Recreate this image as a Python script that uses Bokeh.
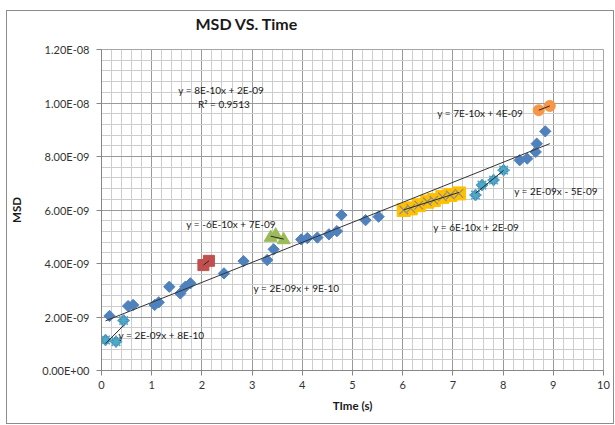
import numpy as np
from bokeh.plotting import figure
from bokeh.models import Range1d, FixedTicker, CustomJSTickFormatter, Label
from bokeh.embed import file_html
from bokeh.resources import INLINE

# ---------------- data (time in s, MSD) ----------------
blue_x = [0.16, 0.53, 0.63, 1.06, 1.14, 1.35, 1.57, 1.67, 1.77, 2.44, 2.83, 3.30,
          3.43, 3.98, 4.10, 4.30, 4.53, 4.69, 4.78, 5.26, 5.52,
          8.33, 8.48, 8.65, 8.67, 8.84]
blue_y = [2.04e-9, 2.41e-9, 2.45e-9, 2.45e-9, 2.55e-9, 3.13e-9, 2.88e-9, 3.13e-9, 3.26e-9,
          3.63e-9, 4.09e-9, 4.13e-9, 4.53e-9, 4.90e-9, 4.95e-9, 4.97e-9, 5.09e-9, 5.21e-9,
          5.81e-9, 5.62e-9, 5.75e-9, 7.86e-9, 7.92e-9, 8.17e-9, 8.48e-9, 8.94e-9]

star1_x = [0.08, 0.29, 0.44]
star1_y = [1.14e-9, 1.08e-9, 1.87e-9]

red_x = [2.03, 2.14]
red_y = [3.94e-9, 4.10e-9]

green_x = [3.37, 3.47, 3.63]
green_y = [4.97e-9, 5.06e-9, 4.88e-9]

yellow_x = [6.02, 6.16, 6.32, 6.49, 6.62, 6.79, 6.95, 7.12]
yellow_y = [6.00e-9, 6.06e-9, 6.18e-9, 6.31e-9, 6.37e-9, 6.49e-9, 6.56e-9, 6.62e-9]

star2_x = [7.45, 7.58, 7.81, 8.01]
star2_y = [6.56e-9, 6.93e-9, 7.12e-9, 7.49e-9]

orange_x = [8.71, 8.93]
orange_y = [9.73e-9, 9.89e-9]

y_ticks = [0.0, 2e-9, 4e-9, 6e-9, 8e-9, 1.0e-8, 1.2e-8]
x_ticks = [0, 1, 2, 3, 4, 5, 6, 7, 8, 9, 10]

title_text = "MSD VS. Time"
eq_main = "y = 8E-10x + 2E-09"
r2_main = "R\u00b2 = 0.9513"
eq_orange = "y = 7E-10x + 4E-09"
eq_star2 = "y = 2E-09x - 5E-09"
eq_yellow = "y = 6E-10x + 2E-09"
eq_green = "y = -6E-10x + 7E-09"
eq_red = "y = 2E-09x + 9E-10"
eq_star1 = "y = 2E-09x + 8E-10"

FONT = "Lato"

# ---------------- figure ----------------
p = figure(width=606, height=412, output_backend="svg", toolbar_location=None,
           x_range=Range1d(0, 10), y_range=Range1d(0, 1.2e-8),
           frame_width=502, frame_height=321,
           min_border_left=94, min_border_top=38, min_border_right=10, min_border_bottom=53)
p.margin = (10, 0, 0, 6)
p.styles = {"border": "1px solid #8c8c8c"}
p.background_fill_color = "white"
p.border_fill_color = "white"
p.outline_line_color = "#a6a6a6"

minor_y = [v * 4e-10 for v in range(0, 31)]
minor_x = [v * 0.2 for v in range(0, 51)]
p.yaxis.ticker = FixedTicker(ticks=y_ticks, minor_ticks=minor_y)
p.xaxis.ticker = FixedTicker(ticks=x_ticks, minor_ticks=minor_x)

p.yaxis.formatter = CustomJSTickFormatter(code="""
  const s = tick.toExponential(2).toUpperCase();
  const parts = s.split("E");
  let e = parseInt(parts[1]);
  const sign = e < 0 ? "-" : "+";
  e = Math.abs(e);
  return parts[0] + "E" + sign + (e < 10 ? "0" : "") + e;
""")

for g in (p.xgrid, p.ygrid):
    g.grid_line_color = "#9a9a9a"
    g.grid_line_width = 1
    g.minor_grid_line_color = "#cdcdcd"
    g.minor_grid_line_width = 1

for ax in (p.xaxis, p.yaxis):
    ax.axis_line_color = "#868686"
    ax.major_tick_line_color = "#868686"
    ax.major_tick_out = 5
    ax.major_tick_in = 0
    ax.minor_tick_out = 0
    ax.minor_tick_in = 0
    ax.major_label_text_font = FONT
    ax.major_label_text_font_size = "11px"
    ax.major_label_text_color = "#333333"
    ax.axis_label_text_font = FONT
    ax.axis_label_text_font_size = "11.5px"
    ax.axis_label_text_font_style = "bold"
    ax.axis_label_text_color = "#1a1a1a"

p.xaxis.axis_label = "TIme (s)"
p.yaxis.axis_label = "MSD"
p.xaxis.major_label_standoff = 5
p.yaxis.major_label_standoff = 7
p.xaxis.axis_label_standoff = 7
p.yaxis.axis_label_standoff = 16

# title: a trailing empty line lifts the text above the plot area
p.title.text = title_text + "\n"
p.title.text_font = FONT
p.title.text_font_size = "16px"
p.title.text_font_style = "bold"
p.title.text_line_height = 0.85
p.title.align = "left"
p.title.offset = 94
p.title.standoff = 0
p.title.text_color = "#1a1a1a"

# ---------------- markers ----------------
BLUE = "#4f81bd"
all_blue_x = blue_x + star1_x + star2_x
all_blue_y = blue_y + star1_y + star2_y
p.scatter(all_blue_x, all_blue_y, marker="square", angle=np.pi / 4, size=8,
          fill_color=BLUE, line_color=BLUE)
p.scatter(star1_x, star1_y, marker="asterisk", size=12, line_color="#4bacc6", line_width=1.6)
p.scatter(star2_x, star2_y, marker="asterisk", size=12, line_color="#4bacc6", line_width=1.6)
p.scatter(red_x, red_y, marker="square", size=11, fill_color="#c0504d", line_color="#c0504d")
p.scatter(green_x, green_y, marker="triangle", size=13, fill_color="#9bbb59", line_color="#9bbb59")
p.scatter(yellow_x, yellow_y, marker="square", size=13, fill_color="#ffc000", line_color="#ffc000")
p.scatter(yellow_x, yellow_y, marker="x", size=12, line_color="#8c8c8c", line_width=1.2)
p.scatter(orange_x, orange_y, marker="circle", size=11, fill_color="#f79646", line_color="#f79646")

# ---------------- trend lines (least squares fits) ----------------
def trend(xs, ys, color="#262626"):
    xs = np.asarray(xs, dtype=float)
    ys = np.asarray(ys, dtype=float)
    m, b = np.polyfit(xs, ys, 1)
    xx = np.array([xs.min(), xs.max()])
    p.line(xx, m * xx + b, line_color=color, line_width=1)

all_x = blue_x + star1_x + star2_x + red_x + green_x + yellow_x + orange_x
all_y = blue_y + star1_y + star2_y + red_y + green_y + yellow_y + orange_y
trend(all_x, all_y, "#333333")
for sx, sy in ((star1_x, star1_y), (red_x, red_y), (green_x, green_y),
               (yellow_x, yellow_y), (star2_x, star2_y), (orange_x, orange_y)):
    trend(sx, sy)

# ---------------- equation labels (left edge positions) ----------------
labels = [
    (1.53, 10.49e-9, eq_main),
    (1.92, 9.96e-9, r2_main),
    (6.69, 9.63e-9, eq_orange),
    (8.22, 6.72e-9, eq_star2),
    (6.61, 5.37e-9, eq_yellow),
    (1.69, 5.49e-9, eq_green),
    (3.03, 3.10e-9, eq_red),
    (0.34, 1.34e-9, eq_star1),
]
for lx, ly, txt in labels:
    p.add_layout(Label(x=lx, y=ly, text=txt, text_align="left", text_baseline="middle",
                       text_font=FONT, text_font_size="10px", text_color="#1a1a1a"))

open("out.html", "w").write(file_html(p, INLINE))
